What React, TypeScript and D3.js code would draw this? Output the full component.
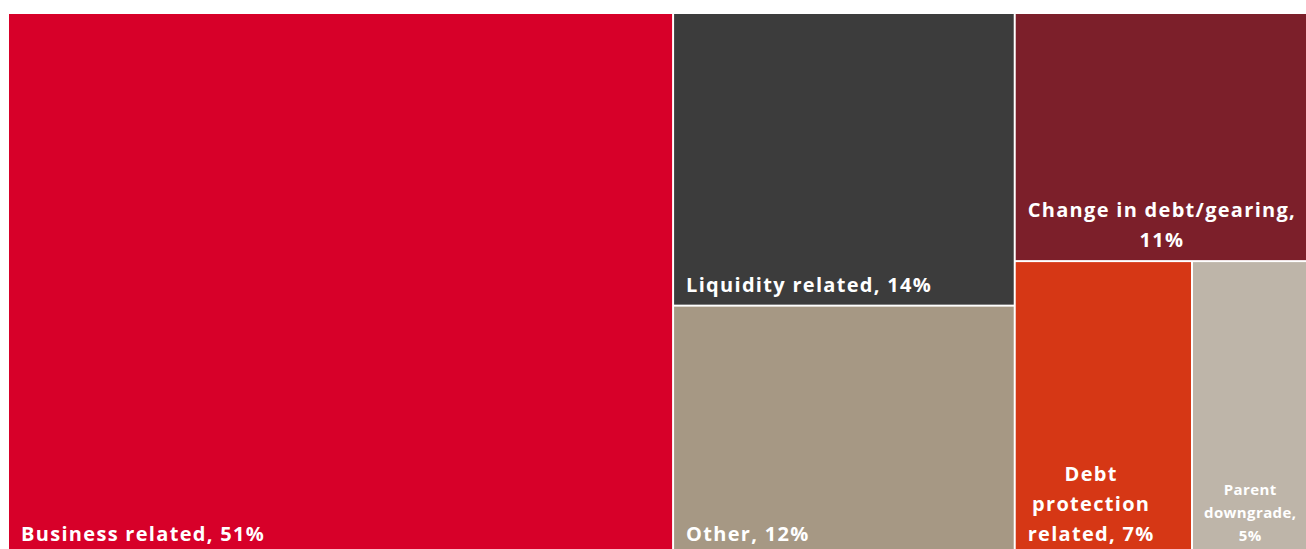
import { useEffect, useRef } from 'react';
import * as d3 from 'd3';

const W = 1306;
const H = 549;

// categories, estimated area shares (%) and the printed labels
const categories = ['Business related', 'Liquidity related', 'Other', 'Change in debt/gearing', 'Debt protection related', 'Parent downgrade'];
const shares = [51.2, 14.2, 12.1, 10.3, 7.4, 4.8];
const labelLines = [
  ['Business related, 51%'],
  ['Liquidity related, 14%'],
  ['Other, 12%'],
  ['Change in debt/gearing,', '11%'],
  ['Debt', 'protection', 'related, 7%'],
  ['Parent', 'downgrade,', '5%'],
];
const colors = ['#d70029', '#3c3c3c', '#a69884', '#7c1f2a', '#d63715', '#beb5a9'];
// grouping used by the slice/dice layout
const groups = [[0], [1, 2], [3, [4, 5]]];

type Node = { name: string; idx?: number; value?: number; children?: Node[] };

function build(g: any): Node {
  if (typeof g === 'number') return { name: categories[g], idx: g, value: shares[g] };
  if (g.length === 1) return build(g[0]);
  return { name: 'g', children: g.map(build) };
}

export default function App() {
  const svgRef = useRef<SVGSVGElement>(null);

  useEffect(() => {
    const svg = d3.select(svgRef.current);
    svg.selectAll('*').remove();

    const root = d3.hierarchy<Node>(build(groups)).sum(d => d.value || 0);
    d3.treemap<Node>()
      .tile(d3.treemapSliceDice)
      .paddingInner(2)
      .size([1297, 540])(root);

    const leaves = root.leaves() as d3.HierarchyRectangularNode<Node>[];
    const plot = svg.append('g').attr('transform', 'translate(9,14)');

    const cell = plot.selectAll('g.cell').data(leaves).join('g').attr('class', 'cell');
    cell.append('rect')
      .attr('x', d => d.x0).attr('y', d => d.y0)
      .attr('width', d => d.x1 - d.x0).attr('height', d => d.y1 - d.y0)
      .attr('fill', d => colors[d.data.idx!]);

    cell.each(function (d) {
      const i = d.data.idx!;
      const lines = labelLines[i];
      const small = i === 5;
      const fs = small ? 15 : 20;
      const lh = small ? 23 : 30;
      const pad = small ? 11 : 12;
      const ls = small ? 0.4 : 1.3;
      const g = d3.select(this);
      const t = g.append('text')
        .attr('fill', '#fff').attr('font-size', fs).attr('font-weight', 700)
        .attr('font-family', '"Open Sans", sans-serif')
        .attr('letter-spacing', ls);
      lines.forEach((ln, k) => {
        t.append('tspan').attr('y', d.y1 - 13 - (lines.length - 1 - k) * lh).text(ln);
      });
      if (lines.length === 1) {
        t.selectAll('tspan').attr('x', d.x0 + pad);
      } else {
        let maxW = 0;
        t.selectAll<SVGTSpanElement, unknown>('tspan').each(function () {
          maxW = Math.max(maxW, this.getComputedTextLength());
        });
        t.attr('text-anchor', 'middle');
        t.selectAll('tspan').attr('x', d.x0 + pad + (maxW - ls) / 2 + ls / 2);
      }
    });
  }, []);

  return (
    <svg ref={svgRef} width={W} height={H}
      style={{ position: 'absolute', left: 0, top: 0, display: 'block' }} />
  );
}
